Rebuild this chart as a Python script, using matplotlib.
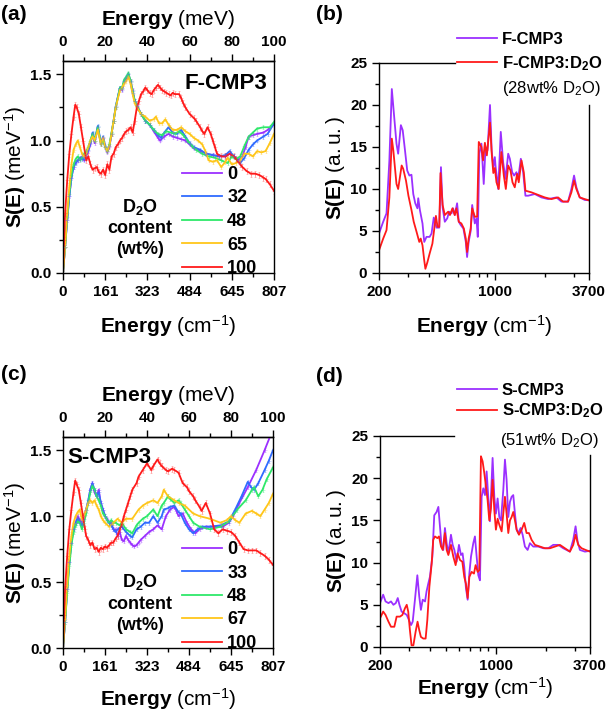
import matplotlib
matplotlib.use("Agg")
import matplotlib.pyplot as plt
from matplotlib.ticker import MultipleLocator, LogLocator, NullFormatter

plt.rcParams["font.family"] = ["Liberation Sans", "DejaVu Sans"]
plt.rcParams["font.weight"] = "bold"
plt.rcParams["axes.labelweight"] = "bold"
plt.rcParams["mathtext.fontset"] = "custom"
plt.rcParams["mathtext.rm"] = "Liberation Sans:weight=normal"
plt.rcParams["mathtext.bf"] = "Liberation Sans:weight=bold"
plt.rcParams["mathtext.it"] = "Liberation Sans:italic:weight=normal"

MEV_TO_CM = 8.0655

# ---- panel (a): F-CMP3, S(E) vs energy (meV), D2O content series ----
fa_x_0 = [0, 1, 2, 3, 4, 5, 6, 7, 8, 9, 10, 11, 12, 13, 14, 15, 16.5, 18, 19, 20, 21, 22, 23, 24, 25, 27, 28, 29, 30, 31, 32, 33, 34, 35, 37,
          39, 41, 43, 45, 46, 48, 50, 52, 54, 56, 58, 60, 62, 65, 68, 71, 74, 77, 79, 81, 83, 85, 86.5, 88, 90, 92, 95, 97, 100]
fa_y_0 = [0, 0.2, 0.4, 0.58, 0.72, 0.8, 0.84, 0.85, 0.86, 0.88, 0.85, 0.88, 0.92, 0.97, 1.05, 0.98, 1.1, 0.97, 1.02, 0.95, 0.91, 0.95, 1.05, 1.15, 1.25, 1.4, 1.38, 1.45, 1.47, 1.5, 1.45, 1.38, 1.3, 1.27, 1.2,
          1.15, 1.12, 1.07, 1.02, 1.0, 1.03, 1.05, 1.03, 1.02, 1.01, 1.0, 0.97, 0.94, 0.92, 0.9, 0.89, 0.88, 0.88, 0.9, 0.88, 0.85, 0.88, 0.95, 1.03, 1.04, 1.05, 1.06, 1.08, 1.12]
fa_x_32 = [0, 1, 2, 3, 4, 5, 6, 7, 8, 9, 10, 11, 12, 13, 14, 15, 16.5, 18, 19, 20, 21, 22, 23, 24, 25, 27, 28, 29, 30, 31, 32, 33, 34, 35, 37,
           39, 41, 43, 45, 46.5, 48, 50, 52, 54, 56, 58, 60, 62, 65, 68, 71, 74, 77, 79, 81, 83, 84, 86, 88, 90, 92, 95, 97, 100]
fa_y_32 = [0, 0.2, 0.4, 0.58, 0.72, 0.8, 0.83, 0.85, 0.87, 0.86, 0.86, 0.9, 0.93, 0.98, 1.06, 1.0, 1.11, 0.98, 1.03, 0.96, 0.92, 0.96, 1.05, 1.15, 1.26, 1.4, 1.39, 1.45, 1.48, 1.5, 1.44, 1.36, 1.3, 1.26, 1.2,
           1.15, 1.12, 1.08, 1.04, 1.02, 1.06, 1.1, 1.06, 1.05, 1.08, 1.03, 0.98, 0.95, 0.93, 0.9, 0.89, 0.88, 0.89, 0.92, 0.88, 0.85, 0.83, 0.87, 0.93, 0.97, 1.0, 1.03, 1.05, 1.13]
fa_x_48 = [0, 1, 2, 3, 4, 5, 6, 7, 8, 9, 10, 11, 12, 13, 14, 15, 16.5, 18, 19, 20, 21, 22, 23, 24, 25, 27, 28, 29, 30, 31, 32, 33, 34, 35, 37,
           39, 41, 43, 45, 47, 49, 51, 53, 55, 57, 59, 61, 63, 66, 69, 72, 75, 78, 80, 82, 84, 86, 88, 90, 92, 95, 98, 100]
fa_y_48 = [0, 0.2, 0.42, 0.6, 0.74, 0.82, 0.86, 0.88, 0.85, 0.87, 0.9, 0.92, 0.95, 1.0, 1.05, 1.0, 1.1, 0.97, 1.0, 0.95, 0.92, 0.97, 1.06, 1.15, 1.25, 1.4, 1.4, 1.46, 1.48, 1.51, 1.45, 1.37, 1.3, 1.26, 1.2,
           1.15, 1.12, 1.08, 1.05, 1.04, 1.07, 1.06, 1.05, 1.07, 1.04, 1.0, 0.96, 0.93, 0.9, 0.88, 0.87, 0.85, 0.83, 0.88, 0.86, 0.88, 0.96, 1.03, 1.06, 1.09, 1.1, 1.1, 1.14]
fa_x_65 = [0, 1, 2, 3, 4, 5, 6, 7, 8, 9, 10, 11, 12, 13, 14, 15, 16.5, 18, 19, 20, 21, 22, 23, 24, 25, 27, 28, 29, 30, 31, 32, 33, 34, 35, 37,
           39, 41, 43, 44, 45.5, 47, 48.5, 50, 52, 54, 56, 58, 60, 62, 64, 66, 67.5, 69, 71, 73, 75, 77, 78, 80, 82, 84, 86, 88, 90, 92, 94, 96, 98, 100]
fa_y_65 = [0, 0.2, 0.45, 0.65, 0.82, 0.93, 0.97, 1.0, 0.95, 0.9, 0.88, 0.9, 0.95, 1.0, 1.03, 1.0, 1.08, 0.97, 1.02, 0.95, 0.92, 0.96, 1.05, 1.15, 1.25, 1.38, 1.4, 1.43, 1.45, 1.48, 1.43, 1.35, 1.28, 1.25, 1.2,
           1.18, 1.15, 1.16, 1.18, 1.13, 1.13, 1.16, 1.12, 1.08, 1.08, 1.1, 1.07, 1.05, 1.02, 1.0, 0.97, 0.92, 0.85, 0.84, 0.85, 0.8, 0.84, 0.87, 0.82, 0.83, 0.85, 0.9, 0.9, 0.88, 0.92, 0.91, 0.92, 0.98, 1.05]
fa_x_100 = [0, 0.5, 1, 2, 3, 4, 5, 5.8, 6.5, 7.5, 8.5, 9.5, 10.5, 11, 12, 13, 14, 15, 16, 17, 18, 19, 20, 21, 22, 23, 24, 25, 26, 27, 28, 29, 30, 31, 32, 33, 34, 35, 36, 37, 38, 39, 40,
            41, 42, 43, 44, 45, 46, 47, 48, 49, 50, 51, 52, 53, 55, 56, 57, 58, 60, 62, 63, 65, 66, 67, 68.5, 70, 71, 72, 73, 75, 77, 79, 81, 82, 84, 85, 87, 89, 91, 93, 95, 96, 98, 100]
fa_y_100 = [0, 0.25, 0.45, 0.7, 0.9, 1.05, 1.18, 1.27, 1.25, 1.2, 1.1, 1.0, 0.9, 0.85, 0.88, 0.82, 0.78, 0.79, 0.8, 0.76, 0.75, 0.78, 0.74, 0.82, 0.78, 0.88, 0.9, 0.95, 0.97, 1.0, 1.02, 1.05, 1.07, 1.08, 1.1, 1.06, 1.15, 1.25, 1.3, 1.35, 1.37, 1.4, 1.38,
            1.36, 1.35, 1.38, 1.4, 1.42, 1.4, 1.38, 1.37, 1.36, 1.35, 1.34, 1.36, 1.35, 1.35, 1.32, 1.28, 1.25, 1.2, 1.17, 1.15, 1.1, 1.07, 1.05, 1.1, 1.05, 1.0, 0.95, 0.9, 0.88, 0.88, 0.9, 0.88, 0.86, 0.82, 0.8, 0.77, 0.75, 0.75, 0.74, 0.72, 0.71, 0.67, 0.62]

# ---- panel (c): S-CMP3 ----
sc_x_0 = [0, 1, 2, 3, 4, 5, 6, 7, 8, 9, 10, 11, 12, 13, 14, 15, 16, 17, 18, 19, 20, 21, 22, 23, 24, 25, 26, 27, 28, 29, 30, 31, 32, 33, 34, 35, 36, 37,
          39, 41, 43, 45, 47, 49, 51, 53, 54, 55, 57, 59, 61, 63, 65, 68, 72, 76, 79, 81, 84, 88, 92, 96, 99]
sc_y_0 = [0, 0.2, 0.45, 0.65, 0.8, 0.9, 0.95, 1.0, 0.97, 0.95, 1.0, 1.05, 1.1, 1.2, 1.25, 1.18, 1.15, 1.2, 1.1, 1.05, 1.0, 0.98, 0.95, 0.95, 0.9, 0.9, 0.85, 0.88, 0.82, 0.81, 0.85, 0.82, 0.8, 0.78, 0.77, 0.78, 0.8, 0.82,
          0.85, 0.88, 0.9, 0.93, 0.9, 1.0, 1.05, 1.07, 1.04, 1.0, 1.02, 0.95, 0.9, 0.87, 0.9, 0.92, 0.92, 0.92, 0.95, 1.0, 1.1, 1.22, 1.35, 1.5, 1.62]
sc_x_33 = [0, 1, 2, 3, 4, 5, 6, 7, 8, 9, 10, 11, 12, 13, 14, 15, 16, 17, 18, 19, 20, 21, 22, 23, 24, 25, 26, 28, 30, 32, 33, 35, 37, 39, 41, 43, 45, 47,
           48, 50, 51, 53, 55, 56, 58, 60, 62, 64, 66, 70, 75, 79, 82, 85, 88, 89.5, 91, 93, 96, 98, 100]
sc_y_33 = [0, 0.2, 0.45, 0.65, 0.8, 0.9, 0.95, 0.98, 0.95, 0.93, 0.98, 1.05, 1.12, 1.2, 1.25, 1.2, 1.15, 1.18, 1.1, 1.05, 1.0, 0.97, 0.95, 0.93, 0.9, 0.88, 0.9, 0.92, 0.88, 0.85, 0.84, 0.9, 0.92, 0.95, 0.95, 1.0, 0.95, 1.0,
           1.05, 1.06, 1.07, 1.08, 1.03, 1.02, 0.95, 0.9, 0.87, 0.9, 0.92, 0.92, 0.93, 0.96, 1.05, 1.15, 1.26, 1.22, 1.2, 1.25, 1.35, 1.42, 1.5]
sc_x_48 = [0, 1, 2, 3, 4, 5, 6, 7, 8, 9, 10, 11, 12, 13, 14, 15, 16, 17, 18, 19, 20, 21, 22, 23, 24, 25, 27, 28, 30, 32, 33, 35, 36, 38, 40, 43, 45, 47,
           48, 50, 51, 53, 55, 56, 58, 60, 62, 65, 70, 75, 79, 83, 87, 90, 91, 93, 95, 97, 100]
sc_y_48 = [0, 0.2, 0.42, 0.62, 0.78, 0.88, 0.93, 0.96, 0.95, 0.9, 0.95, 1.02, 1.1, 1.18, 1.23, 1.2, 1.15, 1.12, 1.08, 1.02, 1.0, 0.97, 0.95, 0.97, 0.95, 0.95, 0.93, 0.95, 0.9, 0.88, 0.87, 0.93, 0.95, 0.98, 1.0, 1.05, 1.0, 1.08,
           1.1, 1.15, 1.13, 1.1, 1.12, 1.1, 1.05, 1.0, 0.95, 0.92, 0.9, 0.92, 0.96, 1.05, 1.12, 1.2, 1.22, 1.15, 1.2, 1.28, 1.37]
sc_x_67 = [0, 1, 2, 3, 4, 5, 6, 7, 8, 9, 10, 11, 12, 13, 14, 15, 16, 17, 18, 19, 20, 22, 24, 26, 28, 30, 33, 36, 38, 40, 43, 45, 47, 48, 50,
           53, 55, 58, 62, 65, 70, 75, 78, 80, 82, 84, 87, 90, 92, 94, 96, 98, 100]
sc_y_67 = [0, 0.22, 0.48, 0.7, 0.85, 0.95, 1.0, 1.03, 1.05, 0.97, 1.0, 1.05, 1.1, 1.12, 1.1, 1.12, 1.08, 1.05, 1.0, 0.97, 0.95, 0.92, 0.95, 0.98, 0.95, 0.98, 0.98, 1.05, 1.08, 1.1, 1.12, 1.1, 1.15, 1.2, 1.15,
           1.12, 1.1, 1.08, 1.02, 1.0, 0.98, 0.95, 0.97, 1.0, 0.97, 0.95, 1.02, 1.04, 1.02, 1.0, 1.05, 1.1, 1.17]
sc_x_100 = [0, 0.5, 1, 2, 3, 4, 5, 5.8, 6.5, 7.5, 8.5, 9.5, 10.5, 11, 12, 13, 14, 15, 16, 17, 18, 19, 20, 21, 22, 23, 24, 25, 26, 27, 28, 29, 30, 31, 32, 33, 35, 36, 38, 40,
            42, 43, 45, 46, 47, 49, 50, 52, 53, 55, 57, 59, 60, 62, 63, 65, 66, 68, 70, 72, 74, 76, 78, 80, 82, 84, 86, 88, 90, 92, 94, 96, 98, 100]
sc_y_100 = [0, 0.25, 0.45, 0.7, 0.9, 1.05, 1.18, 1.27, 1.24, 1.2, 1.1, 1.0, 0.9, 0.85, 0.82, 0.78, 0.8, 0.75, 0.76, 0.73, 0.76, 0.75, 0.77, 0.76, 0.78, 0.8, 0.8, 0.83, 0.85, 0.9, 0.94, 1.0, 1.05, 1.1, 1.15, 1.2, 1.25, 1.3, 1.35, 1.4,
            1.35, 1.38, 1.43, 1.4, 1.38, 1.35, 1.34, 1.36, 1.35, 1.33, 1.25, 1.22, 1.19, 1.15, 1.12, 1.07, 1.04, 1.1, 1.02, 0.9, 0.87, 0.9, 0.89, 0.88, 0.85, 0.8, 0.75, 0.74, 0.74, 0.74, 0.72, 0.7, 0.67, 0.63]

# ---- panel (b): F-CMP3 vs F-CMP3:D2O, S(E) vs energy (cm-1) ----
fb_x_dry = [200, 212, 222, 231, 239, 244, 255, 261, 271, 278, 287, 296, 305, 314, 322, 331, 341, 345, 353, 366, 375, 387, 404, 415, 428, 445, 462, 473, 484, 499,
            516, 530, 548, 560, 573, 592, 606, 623, 646, 668, 680, 695, 715, 730, 757, 775, 789, 806, 830, 857, 879, 904, 935, 957, 979, 1000,
            1009, 1048, 1086, 1122, 1160, 1204, 1232, 1272, 1307, 1350, 1382, 1435, 1482, 1530, 1588, 1742, 1910, 2096, 2353, 2522, 2766, 2897, 3006, 3105, 3252, 3484, 3700]
fb_y_dry = [4.7, 6.1, 7.1, 13.4, 21.9, 19.8, 15.4, 14.2, 17.6, 17.0, 14.6, 12.2, 11.6, 11.7, 9.4, 8.3, 7.7, 8.9, 7.5, 5.9, 3.7, 4.3, 4.3, 4.7, 6.6, 5.4, 5.4, 12.6, 7.8, 6.1,
            6.5, 7.3, 7.1, 7.7, 6.9, 8.3, 6.1, 5.7, 5.3, 3.7, 1.9, 3.7, 5.0, 8.1, 5.9, 6.5, 4.3, 14.2, 15.4, 10.6, 15.0, 14.6, 20.0, 14.6, 12.6, 13.8,
            12.8, 10.0, 16.8, 13.2, 11.2, 14.2, 13.6, 12.0, 11.6, 12.0, 11.2, 13.6, 12.0, 9.2, 9.2, 9.4, 9.0, 8.8, 9.0, 8.5, 8.5, 10.0, 11.6, 10.2, 9.0, 8.7, 8.65]
fb_x_wet = [200, 212, 222, 231, 239, 244, 255, 261, 274, 280, 291, 301, 314, 324, 337, 350, 357, 366, 375, 381, 392, 404, 420, 441, 451, 462, 470, 484, 499, 523,
            536, 555, 573, 586, 606, 628, 650, 668, 680, 695, 715, 730, 757, 782, 800, 830, 849, 871, 895, 935, 957, 979, 1000,
            1023, 1056, 1095, 1133, 1165, 1204, 1243, 1278, 1319, 1363, 1394, 1448, 1495, 1530, 1664, 1824, 2000, 2195, 2408, 2580, 2766, 2897, 3006, 3105, 3252, 3484, 3700]
fb_y_wet = [2.7, 4.1, 5.1, 9.0, 16.0, 14.6, 10.6, 10.0, 12.8, 12.4, 11.0, 9.2, 7.5, 6.1, 4.9, 3.7, 4.1, 3.3, 1.5, 0.5, 1.3, 2.3, 3.5, 6.8, 5.5, 5.5, 11.9, 8.1, 6.9, 7.3,
            6.9, 7.7, 6.9, 7.7, 6.1, 5.9, 5.3, 4.1, 2.5, 4.1, 5.3, 7.7, 6.7, 6.7, 15.6, 15.0, 13.4, 15.5, 14.0, 17.9, 14.3, 11.9, 12.5,
            10.8, 10.0, 14.4, 11.6, 10.0, 12.8, 12.2, 10.8, 10.2, 11.8, 10.8, 13.4, 12.0, 9.8, 9.6, 9.3, 9.0, 8.8, 9.0, 8.5, 8.5, 9.6, 11.0, 10.0, 9.0, 8.8, 8.65]

# ---- panel (d): S-CMP3 vs S-CMP3:D2O ----
sd_x_dry = [200, 209, 216, 225, 233, 241, 249, 256, 262, 270, 280, 290, 299, 308, 315, 325, 336, 345, 353, 362, 374, 382, 391, 400, 414, 425, 439, 450, 460, 471,
            482, 493, 505, 517, 536, 549, 562, 580, 599, 616, 630, 645, 660, 676, 692, 708, 731, 748, 766, 784, 802, 821, 840, 860, 880, 900, 921, 943, 956, 979,
            1001, 1025, 1049, 1074, 1109, 1135, 1161, 1189, 1217, 1245, 1274, 1304, 1335, 1366, 1411, 1451, 1498, 1555, 1606, 1682, 1803, 1933, 2071, 2220, 2380,
            2551, 2798, 2931, 3028, 3114, 3216, 3448, 3700]
sd_y_dry = [5.2, 6.2, 5.4, 5.2, 5.4, 5.0, 5.2, 5.8, 5.0, 4.2, 4.0, 3.8, 3.2, 2.6, 3.0, 5.6, 8.5, 6.0, 4.4, 5.6, 5.4, 6.6, 7.5, 8.3, 10.7, 15.6, 16.0, 16.6, 14.3, 11.9,
            11.5, 14.1, 12.3, 11.1, 13.3, 12.1, 11.5, 10.1, 12.1, 10.9, 11.1, 9.5, 7.0, 5.6, 8.7, 10.7, 12.3, 13.1, 10.7, 8.5, 7.9, 17.8, 18.8, 18.0, 20.8, 17.8, 14.9, 19.6, 22.4, 17.8,
            15.8, 17.6, 15.4, 15.0, 18.6, 22.2, 19.8, 15.4, 17.2, 17.8, 18.0, 15.8, 13.9, 13.5, 14.1, 13.3, 11.9, 11.5, 12.3, 11.9, 11.9, 11.7, 11.7, 12.1, 12.1,
            11.7, 11.3, 12.7, 14.3, 12.5, 11.5, 11.3, 11.4]
sd_x_wet = [200, 209, 216, 225, 233, 244, 252, 264, 273, 283, 290, 296, 303, 310, 318, 328, 337, 345, 353, 365, 377, 386, 397, 410, 419, 429, 444, 454, 467, 478,
            493, 505, 517, 536, 554, 572, 588, 608, 628, 645, 660, 676, 692, 714, 738, 755, 777, 795, 813, 832, 852, 872, 892, 913, 934, 956, 979,
            1001, 1025, 1049, 1084, 1109, 1135, 1161, 1189, 1217, 1245, 1274, 1304, 1335, 1379, 1431, 1484, 1533, 1584, 1643, 1721, 1845, 1978, 2120, 2273, 2436,
            2611, 2798, 2931, 3028, 3142, 3292, 3479, 3700]
sd_y_wet = [3.4, 4.2, 3.8, 3.0, 2.4, 2.4, 3.6, 3.6, 3.8, 4.6, 5.0, 4.2, 2.0, 0.2, 0.2, 1.8, 3.0, 2.0, 1.2, 1.0, 1.0, 3.2, 7.1, 9.9, 12.7, 13.1, 12.9, 13.1, 11.9, 11.5,
            13.5, 11.5, 10.9, 12.1, 10.7, 9.7, 11.1, 10.3, 10.1, 8.3, 7.5, 5.8, 8.3, 8.9, 8.7, 9.7, 8.9, 9.1, 22.6, 22.0, 20.6, 19.0, 17.4, 15.0, 16.4, 19.8, 16.2,
            13.9, 15.2, 14.5, 13.7, 15.8, 17.8, 15.8, 13.5, 15.0, 15.4, 16.0, 15.0, 13.9, 13.3, 13.9, 14.7, 13.5, 13.5, 12.7, 12.1, 11.9, 11.7, 11.7, 11.9, 12.1,
            11.7, 11.3, 12.1, 13.3, 12.1, 11.7, 11.5, 11.3]

content_labels_f = ["0", "32", "48", "65", "100"]
content_labels_s = ["0", "33", "48", "67", "100"]
series_colors = ["#9b30ff", "#2f6bff", "#2ee86a", "#ffc61a", "#ff1a1a"]
err_dry = 0.015
err_wet = 0.022

W, H = 611, 713
LABEL_SIZE = 15
TICK_SIZE = 11
fig = plt.figure(figsize=(W / 100, H / 100), dpi=100)


def px_axes(l, t, r, b):
    return fig.add_axes([l / W, 1 - b / H, (r - l) / W, (b - t) / H])


def style_ticks(ax):
    ax.tick_params(which="major", direction="out", length=5, width=1, labelsize=TICK_SIZE)
    ax.tick_params(which="minor", direction="out", length=3, width=1)
    for s in ax.spines.values():
        s.set_linewidth(1)


def mev_panel(ax, xs, ys, labels, tag, tag_pos, leg_top, note_pos, xpad):
    handles = []
    for x, y, c in zip(xs, ys, series_colors):
        e = err_wet if c == series_colors[-1] else err_dry
        ax.errorbar(x, y, yerr=e, fmt="+", ms=3, mew=0.6, color=c, alpha=0.3,
                    elinewidth=0.6, capsize=1)
        h, = ax.plot(x, y, color=c, lw=1.3)
        handles.append(h)
    ax.set_xlim(0, 100)
    ax.set_ylim(0, 1.6)
    ticks = list(range(0, 101, 20))
    ax.set_xticks(ticks, [str(round(t * MEV_TO_CM)) for t in ticks])
    ax.xaxis.set_minor_locator(MultipleLocator(10))
    ax.set_yticks([0, 0.5, 1.0, 1.5])
    ax.yaxis.set_minor_locator(MultipleLocator(0.25))
    style_ticks(ax)
    ax.set_xlabel(r"Energy $\mathrm{(cm^{-1})}$", fontsize=LABEL_SIZE, labelpad=xpad)
    ax.set_ylabel(r"S(E) $\mathrm{(meV^{-1})}$", fontsize=LABEL_SIZE, labelpad=1.5)
    sec = ax.secondary_xaxis("top")
    sec.set_xticks(ticks)
    sec.xaxis.set_minor_locator(MultipleLocator(10))
    style_ticks(sec)
    sec.set_xlabel(r"Energy $\mathrm{(meV)}$", fontsize=LABEL_SIZE, labelpad=7.5)
    ax.text(*tag_pos, tag, transform=ax.transAxes, fontsize=16, ha="left", va="center")
    ax.legend(handles, labels, loc="upper left", bbox_to_anchor=(182 / W, 1 - leg_top / H),
              bbox_transform=fig.transFigure, frameon=False,
              fontsize=13, handlelength=2.2, handletextpad=0.3, labelspacing=0.36,
              borderpad=0, borderaxespad=0)
    ax.text(*note_pos, "$\\mathbf{D_2O}$\ncontent\n(wt%)", transform=ax.transAxes,
            fontsize=13, ha="center", va="center", linespacing=1.3)


def cm_panel(ax, x1, y1, x2, y2, names, note, top_end, right_end, leg_xy, leg_sp, note_xy, xpad):
    h1, = ax.plot(x1, y1, color="#9b30ff", lw=1.3)
    h2, = ax.plot(x2, y2, color="#ff1a1a", lw=1.3)
    ax.set_xscale("log")
    ax.set_xlim(200, 3700)
    ax.set_ylim(0, 25)
    ax.set_xticks([200, 1000, 3700], ["200", "1000", "3700"])
    ax.xaxis.set_minor_locator(LogLocator(base=10, subs=range(2, 10)))
    ax.xaxis.set_minor_formatter(NullFormatter())
    ax.yaxis.set_major_locator(MultipleLocator(5))
    ax.yaxis.set_minor_locator(MultipleLocator(2.5))
    style_ticks(ax)
    ax.spines["top"].set_bounds(200, top_end)
    ax.spines["right"].set_bounds(0, right_end)
    ax.set_xlabel(r"Energy $\mathrm{(cm^{-1})}$", fontsize=LABEL_SIZE, labelpad=xpad)
    ax.set_ylabel(r"S(E) $\mathrm{(a.u.)}$", fontsize=LABEL_SIZE, labelpad=2.5)
    ax.legend([h1, h2], names, loc="upper left", bbox_to_anchor=leg_xy,
              bbox_transform=fig.transFigure, frameon=False, fontsize=12,
              handlelength=2.4, handletextpad=0.3, labelspacing=leg_sp,
              borderpad=0, borderaxespad=0)
    fig.text(*note_xy, note, fontsize=12, ha="left", va="center")


ax_a = px_axes(63, 61, 274, 273)
mev_panel(ax_a, [fa_x_0, fa_x_32, fa_x_48, fa_x_65, fa_x_100],
          [fa_y_0, fa_y_32, fa_y_48, fa_y_65, fa_y_100], content_labels_f,
          "F-CMP3", (0.575, 0.895), 166, (0.365, 0.215), 10.5)

ax_c = px_axes(63, 437, 273, 648)
mev_panel(ax_c, [sc_x_0, sc_x_33, sc_x_48, sc_x_67, sc_x_100],
          [sc_y_0, sc_y_33, sc_y_48, sc_y_67, sc_y_100], content_labels_s,
          "S-CMP3", (0.022, 0.905), 541, (0.365, 0.215), 9)

ax_b = px_axes(379, 63, 589, 273)
cm_panel(ax_b, fb_x_dry, fb_y_dry, fb_x_wet, fb_y_wet,
         ["F-CMP3", r"F-CMP3:$\mathbf{D_2O}$"], r"$\mathrm{(28wt\%\ D_2O)}$",
         575, 20, (457 / W, 1 - 32 / H), 0.43, (502 / W, 1 - 88 / H), 10.5)

ax_d = px_axes(380, 436, 590, 647)
cm_panel(ax_d, sd_x_dry, sd_y_dry, sd_x_wet, sd_y_wet,
         ["S-CMP3", r"S-CMP3:$\mathbf{D_2O}$"], r"$\mathrm{(51wt\%\ D_2O)}$",
         558, 22.7, (457 / W, 1 - 383 / H), 0.2, (500 / W, 1 - 440 / H), 1.5)

for lbl, x, y in [("(a)", 1, 14), ("(b)", 316, 14), ("(c)", 1, 374), ("(d)", 316, 376)]:
    fig.text(x / W, 1 - y / H, lbl, fontsize=15, ha="left", va="center")

fig.savefig("out.png", dpi=100)
